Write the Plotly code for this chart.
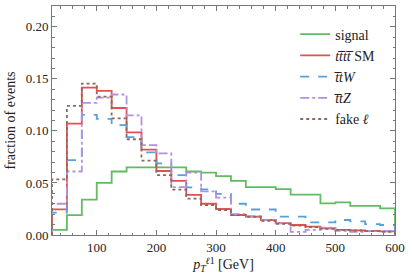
import plotly.graph_objects as go

# bin edges (GeV)
bin_edges = [25, 50, 75, 100, 125, 150, 175, 200, 225, 250, 275, 300, 325, 350,
             375, 400, 425, 450, 475, 500, 525, 550, 575, 600]

signal = [0.005, 0.019, 0.034, 0.050, 0.061, 0.065, 0.065, 0.065, 0.065, 0.061, 0.060,
          0.0566, 0.052, 0.046, 0.046, 0.044, 0.0387, 0.0387, 0.0304, 0.0314, 0.028,
          0.028, 0.0256]
tttt_sm = [0.0247, 0.107, 0.1415, 0.1385, 0.122, 0.0985, 0.082, 0.0615, 0.052, 0.0385,
           0.030, 0.025, 0.0192, 0.0176, 0.0144, 0.0115, 0.0096, 0.008, 0.0064, 0.005,
           0.0045, 0.004, 0.0035]
ttw = [0.0214, 0.072, 0.1155, 0.1115, 0.1056, 0.094, 0.0794, 0.0688, 0.0576, 0.0458,
       0.0439, 0.0395, 0.030, 0.0245, 0.0245, 0.0176, 0.0176, 0.0122, 0.0122, 0.0144,
       0.013, 0.0105, 0.0096]
ttz = [0.0300, 0.061, 0.127, 0.132, 0.135, 0.115, 0.0864, 0.0784, 0.046, 0.060, 0.042,
       0.036, 0.020, 0.018, 0.0144, 0.0112, 0.003, 0.005, 0.007, 0.004, 0.003, 0.004,
       0.004]
fake = [0.0535, 0.124, 0.1455, 0.133, 0.112, 0.092, 0.0715, 0.0576, 0.0435, 0.035,
        0.0288, 0.024, 0.019, 0.0175, 0.0137, 0.0106, 0.009, 0.0075, 0.006, 0.005,
        0.0043, 0.0038, 0.003]

names = ["signal",
         "<i>tt\u0305tt\u0305</i> SM",
         "<i>t\u0305tW</i>",
         "<i>t\u0305tZ</i>",
         "fake <i>ℓ</i>"]
series = [signal, tttt_sm, ttw, ttz, fake]
colors = ["#62bb62", "#e4504f", "#5a9fd6", "#b490e0", "#8a6a5c"]
dashes = ["solid", "solid", "dash", "dashdot", "dot"]

fig = go.Figure()
for name, vals, col, dash in zip(names, series, colors, dashes):
    xs = [bin_edges[0]] + bin_edges + [bin_edges[-1]]
    ys = [0] + list(vals) + [vals[-1], 0]
    fig.add_trace(go.Scatter(x=xs, y=ys, mode="lines", name=name,
                             line=dict(color=col, width=1.8, dash=dash, shape="hv")))

font = "Liberation Serif, DejaVu Serif, serif"
axis_common = dict(showline=True, linecolor="#777", linewidth=1, mirror="allticks",
                   ticks="inside", ticklen=5, tickcolor="#777", showgrid=False,
                   zeroline=False, tickfont=dict(family=font, size=13, color="#222"))
fig.update_xaxes(range=[25, 600], dtick=100, tick0=0,
                 minor=dict(ticks="inside", ticklen=2.5, dtick=20, tickcolor="#777"),
                 title=dict(text="<i>p</i><sub><i>T</i></sub><sup><i>ℓ</i>1</sup> [GeV]",
                            font=dict(family=font, size=14, color="#222"), standoff=4),
                 **axis_common)
fig.update_yaxes(range=[0, 0.22], dtick=0.05, tickformat=".2f",
                 minor=dict(ticks="inside", ticklen=2.5, dtick=0.01, tickcolor="#777"),
                 title=dict(text="fraction of events",
                            font=dict(family=font, size=14, color="#222"), standoff=6),
                 **axis_common)
fig.update_layout(width=412, height=279, margin=dict(l=52, r=17, t=6, b=44),
                  plot_bgcolor="white", paper_bgcolor="white",
                  font=dict(family=font, size=13, color="#222"),
                  legend=dict(x=0.709, y=0.945, xanchor="left", yanchor="top",
                              bgcolor="rgba(0,0,0,0)", font=dict(family=font, size=14),
                              tracegroupgap=0, itemwidth=30))
fig.write_html("out.html", config={"displayModeBar": False},
               post_script="document.body.style.margin='0px';document.body.style.overflow='hidden';")
